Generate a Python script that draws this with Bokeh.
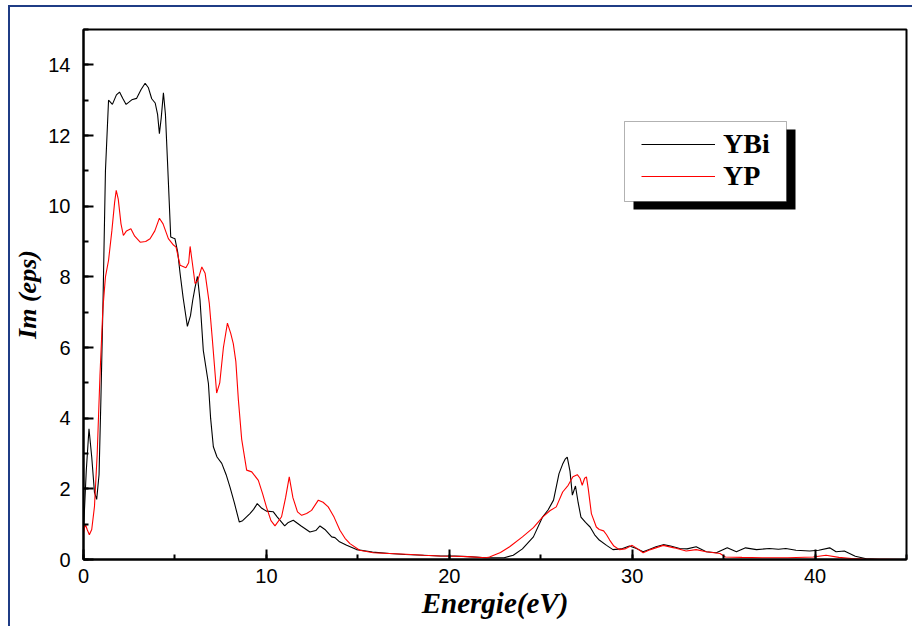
from bokeh.plotting import figure
from bokeh.models import (Range1d, SingleIntervalTicker, Legend, LegendItem, BoxAnnotation)
from bokeh.embed import file_html
from bokeh.resources import INLINE

# ---------------- data ----------------
energy_ybi = [
    0, 0.15, 0.3, 0.45, 0.6, 0.72, 0.85, 0.95, 1.06, 1.2,
    1.37, 1.58, 1.8, 1.97, 2.15, 2.33, 2.5, 2.64, 2.9, 3.15,
    3.37, 3.55, 3.73, 3.92, 4.05, 4.15, 4.25, 4.37, 4.48, 4.59,
    4.77, 4.9, 5.0, 5.15, 5.28, 5.45, 5.68, 5.85, 5.97, 6.1,
    6.23, 6.37, 6.55, 6.83, 6.95, 7.1, 7.3, 7.56, 7.8, 8.01,
    8.25, 8.52, 8.7, 8.9, 9.1, 9.3, 9.5, 9.75, 10.0, 10.38,
    10.6, 11.0, 11.2, 11.47, 11.9, 12.38, 12.7, 12.93, 13.2, 13.57,
    13.75, 14.0, 14.39, 14.93, 15.8, 16.75, 17.6, 18.57, 19.48, 20.3,
    21.0, 22.0, 23.0, 23.5, 24.0, 24.6, 25.1, 25.4, 25.7, 26.0,
    26.2, 26.35, 26.45, 26.6, 26.73, 26.9, 27.05, 27.2, 27.45, 27.7,
    27.95, 28.2, 28.6, 28.95, 29.4, 29.85, 30.2, 30.6, 31.0, 31.3,
    31.7, 32.1, 32.6, 33.0, 33.5, 34.05, 34.6, 35.2, 35.7, 36.2,
    36.8, 37.5, 38.0, 38.4, 38.96, 39.7, 40.2, 40.8, 41.15, 41.6,
    42.2, 42.8, 43.5, 45.0,
]
im_ybi = [
    0.8, 2.5, 3.7, 2.9, 1.9, 1.7, 2.4, 4.5, 7.1, 11.0,
    13.0, 12.88, 13.15, 13.23, 13.05, 12.88, 12.95, 13.01, 13.05, 13.3,
    13.48, 13.35, 13.04, 12.92, 12.6, 12.05, 12.5, 13.21, 12.6, 11.3,
    9.13, 9.1, 9.08, 8.7, 8.1, 7.4, 6.6, 6.9, 7.33, 7.7,
    8.01, 7.34, 5.92, 4.98, 4.0, 3.19, 2.9, 2.72, 2.4, 2.05,
    1.6, 1.06, 1.1, 1.2, 1.3, 1.42, 1.58, 1.45, 1.37, 1.35,
    1.2, 0.95, 1.05, 1.11, 0.95, 0.78, 0.82, 0.95, 0.85, 0.64,
    0.62, 0.5, 0.4, 0.28, 0.21, 0.17, 0.14, 0.12, 0.1, 0.1,
    0.08, 0.05, 0.05, 0.12, 0.3, 0.64, 1.2, 1.4, 1.68, 2.43,
    2.7, 2.85, 2.9, 2.5, 1.82, 2.08, 1.6, 1.2, 1.05, 0.92,
    0.7, 0.55, 0.4, 0.28, 0.3, 0.38, 0.32, 0.22, 0.3, 0.36,
    0.42, 0.38, 0.31, 0.3, 0.36, 0.22, 0.19, 0.33, 0.22, 0.33,
    0.28, 0.31, 0.29, 0.31, 0.26, 0.24, 0.26, 0.33, 0.22, 0.24,
    0.09, 0.02, 0.0, 0.0,
]
energy_yp = [
    0, 0.1, 0.2, 0.32, 0.45, 0.6, 0.75, 0.9, 1.06, 1.2,
    1.37, 1.55, 1.7, 1.79, 1.9, 2.05, 2.18, 2.35, 2.59, 2.8,
    3.1, 3.4, 3.64, 3.9, 4.15, 4.35, 4.64, 4.92, 5.06, 5.28,
    5.6, 5.75, 5.83, 5.95, 6.1, 6.25, 6.47, 6.65, 6.88, 7.05,
    7.28, 7.45, 7.65, 7.87, 8.05, 8.19, 8.33, 8.47, 8.65, 8.92,
    9.2, 9.56, 9.8, 10.0, 10.25, 10.47, 10.83, 11.05, 11.25, 11.45,
    11.7, 11.93, 12.2, 12.47, 12.84, 13.1, 13.38, 13.7, 14.02, 14.3,
    14.57, 15.1, 15.84, 16.7, 17.66, 18.6, 19.5, 20.3, 21.0, 22.0,
    22.2, 22.8, 23.3, 24.0, 24.6, 25.1, 25.5, 25.85, 26.2, 26.5,
    26.76, 27.0, 27.15, 27.27, 27.4, 27.5, 27.6, 27.77, 28.04, 28.2,
    28.44, 28.6, 28.77, 29.0, 29.3, 29.6, 30.0, 30.3, 30.6, 31.0,
    31.7, 32.3, 32.95, 33.5, 34.05, 34.8, 35.1, 36.0, 37.1, 38.5,
    39.9, 40.6, 41.3, 42.0, 42.6, 45.0,
]
im_yp = [
    0.75, 1.0, 0.85, 0.7, 0.85, 1.5, 3.0, 5.2, 7.1, 8.0,
    8.47, 9.3, 10.1, 10.45, 10.2, 9.5, 9.17, 9.3, 9.36, 9.15,
    8.98, 9.0, 9.08, 9.3, 9.66, 9.5, 9.08, 8.9, 8.84, 8.33,
    8.26, 8.4, 8.86, 8.4, 7.81, 7.9, 8.28, 8.1, 7.24, 6.2,
    4.71, 5.0, 6.0, 6.69, 6.4, 6.11, 5.6, 4.51, 3.4, 2.53,
    2.48, 2.24, 1.85, 1.49, 1.1, 0.95, 1.21, 1.75, 2.34, 1.75,
    1.35, 1.25, 1.3, 1.39, 1.68, 1.62, 1.49, 1.2, 0.83, 0.6,
    0.45, 0.26, 0.19, 0.17, 0.15, 0.12, 0.1, 0.09, 0.08, 0.05,
    0.07, 0.2, 0.36, 0.64, 0.9, 1.2, 1.38, 1.49, 1.91, 2.1,
    2.34, 2.4, 2.3, 2.1, 2.3, 2.34, 2.0, 1.3, 0.92, 0.85,
    0.81, 0.7, 0.55, 0.38, 0.28, 0.3, 0.4, 0.3, 0.19, 0.28,
    0.4, 0.33, 0.24, 0.28, 0.22, 0.17, 0.07, 0.06, 0.05, 0.05,
    0.07, 0.12, 0.06, 0.03, 0.01, 0.0,
]
series_names = ["YBi", "YP"]
series_colors = ["#000000", "#ff0000"]
x_title = "Energie(eV)"
y_title = "Im (eps)"
x_lim = (0, 45)
y_lim = (0, 15)

# ---------------- layout ----------------
FRAME_W, FRAME_H = 823, 530
FIG_W, FIG_H = 903, 620
BORDER_BLUE = "#1f3c85"

p = figure(width=FIG_W, height=FIG_H, output_backend="svg", toolbar_location=None,
           x_range=Range1d(*x_lim), y_range=Range1d(*y_lim),
           frame_width=FRAME_W, frame_height=FRAME_H,
           min_border_left=73, min_border_right=7, min_border_top=22, min_border_bottom=68)
p.margin = (5, 0, 0, 8)
p.styles = {"border-top": f"2px solid {BORDER_BLUE}", "border-left": f"2px solid {BORDER_BLUE}"}
p.background_fill_color = "white"
p.border_fill_color = "white"
p.grid.visible = False
p.outline_line_color = "black"
p.outline_line_width = 2

for ax in (p.xaxis[0], p.yaxis[0]):
    ax.axis_line_width = 2
    ax.major_tick_line_width = 2
    ax.minor_tick_line_width = 2
    ax.major_tick_in = 10
    ax.major_tick_out = 0
    ax.minor_tick_in = 5
    ax.minor_tick_out = 0
    ax.major_label_text_font = "Liberation Sans"
    ax.major_label_text_font_size = "20px"
    ax.major_label_text_color = "black"
    ax.axis_label_text_font = "Liberation Serif"
    ax.axis_label_text_font_style = "bold italic"
    ax.axis_label_text_color = "black"

p.xaxis[0].axis_label_text_font_size = "29px"
p.yaxis[0].axis_label_text_font_size = "26px"
p.xaxis[0].ticker = SingleIntervalTicker(interval=10, num_minor_ticks=2)
p.yaxis[0].ticker = SingleIntervalTicker(interval=2, num_minor_ticks=2)
p.xaxis[0].axis_label = x_title
p.yaxis[0].axis_label = y_title
p.xaxis[0].major_label_standoff = 9
p.yaxis[0].major_label_standoff = 13
p.xaxis[0].axis_label_standoff = 1
p.yaxis[0].axis_label_standoff = 3

r_ybi = p.line(energy_ybi, im_ybi, line_color=series_colors[0], line_width=1.1)
r_yp = p.line(energy_yp, im_yp, line_color=series_colors[1], line_width=1.1)

# legend: box + drop shadow drawn as annotations (pixel offsets from frame's bottom-left)
BOX_X, BOX_Y, BOX_W, BOX_H, SH_DX, SH_DY = 541, 358, 162, 80, 9, 8
sx = (x_lim[1] - x_lim[0]) / FRAME_W
sy = (y_lim[1] - y_lim[0]) / FRAME_H
shadow = BoxAnnotation(left=(BOX_X + SH_DX) * sx, right=(BOX_X + BOX_W + SH_DX) * sx,
                       bottom=(BOX_Y - SH_DY) * sy, top=(BOX_Y + BOX_H - SH_DY) * sy,
                       fill_color="black", fill_alpha=1.0, line_color=None)
box = BoxAnnotation(left=BOX_X * sx, right=(BOX_X + BOX_W) * sx,
                    bottom=BOX_Y * sy, top=(BOX_Y + BOX_H) * sy,
                    fill_color="white", fill_alpha=1.0, line_color="black", line_width=1)
p.add_layout(shadow)
p.add_layout(box)

legend = Legend(items=[LegendItem(label=series_names[0], renderers=[r_ybi]),
                       LegendItem(label=series_names[1], renderers=[r_yp])],
                location=(BOX_X + 17, BOX_Y + 9))
legend.label_text_font = "Liberation Serif"
legend.label_text_font_style = "bold"
legend.label_text_font_size = "28px"
legend.label_text_color = "black"
legend.label_height = 30
legend.glyph_height = 30
legend.glyph_width = 74
legend.label_standoff = 8
legend.padding = 0
legend.spacing = 0
legend.margin = 0
legend.border_line_color = None
legend.background_fill_alpha = 0.0
p.add_layout(legend, "center")

open("out.html", "w").write(file_html(p, INLINE))
